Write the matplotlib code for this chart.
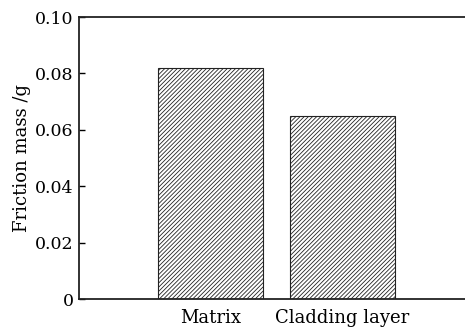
import matplotlib
matplotlib.use("Agg")
import matplotlib.pyplot as plt

# ── Data ────────────────────────────────────────────────────────────────────
categories = ["Matrix", "Cladding layer"]
friction_mass = [0.082, 0.065]
y_ticks = [0, 0.02, 0.04, 0.06, 0.08, 0.10]
y_tick_labels = ["0", "0.02", "0.04", "0.06", "0.08", "0.10"]

plt.rcParams["font.family"] = "DejaVu Serif"
plt.rcParams["hatch.linewidth"] = 0.6
plt.rcParams["hatch.color"] = "#555555"

fig = plt.figure(figsize=(4.65, 3.28), dpi=100)
ax = fig.add_axes([0.170, 0.088, 0.835, 0.860])

x = list(range(len(categories)))
ax.bar(x, friction_mass, width=0.8, facecolor="white", edgecolor="#222222",
       linewidth=0.8, hatch="////////")

ax.set_xlim(-1.0, 1.95)
ax.set_ylim(0, 0.10)
ax.set_yticks(y_ticks)
ax.set_yticklabels(y_tick_labels)
ax.set_xticks(x)
ax.set_xticklabels(categories)

ax.tick_params(axis="y", direction="in", length=4, width=1.0, pad=4,
               labelsize=12.5)
ax.tick_params(axis="x", length=0, pad=7, labelsize=13)

ax.spines["right"].set_visible(False)
for s in ("left", "top", "bottom"):
    ax.spines[s].set_linewidth(1.3)
    ax.spines[s].set_color("#222222")

ax.set_ylabel("Friction mass /g", fontsize=13)
ax.yaxis.set_label_coords(-0.125, 0.5)

fig.savefig("out.png", dpi=100)
